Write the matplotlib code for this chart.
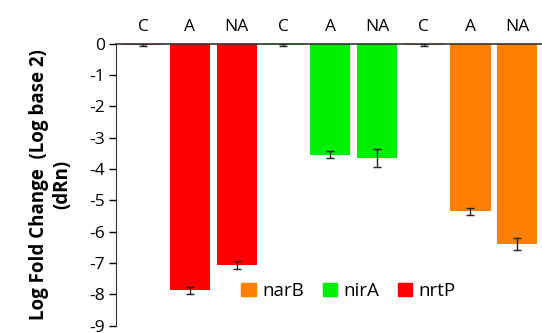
import matplotlib.pyplot as plt
from matplotlib.patches import Patch

plt.rcParams["font.family"] = ["Open Sans", "DejaVu Sans"]

# data, one group per gene (nrtP, nirA, narB), conditions C / A / NA
conditions = ["C", "A", "NA"]
genes = ["nrtP", "nirA", "narB"]
gene_colors = {"nrtP": "#ff0000", "nirA": "#00ee00", "narB": "#ff8000"}
nrtP_vals = [-0.03, -7.87, -7.07]
nrtP_err = [0.03, 0.12, 0.13]
nirA_vals = [-0.03, -3.54, -3.65]
nirA_err = [0.03, 0.12, 0.28]
narB_vals = [-0.03, -5.35, -6.40]
narB_err = [0.03, 0.12, 0.20]

values = nrtP_vals + nirA_vals + narB_vals
errors = nrtP_err + nirA_err + narB_err
colors = [gene_colors[g] for g in genes for _ in conditions]
labels = conditions * len(genes)
x = list(range(len(values)))

fig = plt.figure(figsize=(5.42, 3.33), dpi=100)
ax = fig.add_axes([0.214, 0.022, 0.786, 0.847])

ax.bar(x, values, width=0.86, color=colors, zorder=2)
ax.errorbar(x, values, yerr=errors, fmt="none", ecolor="#222222",
            elinewidth=1, capsize=3, capthick=1, zorder=3)

ax.set_ylim(-9, 0)
ax.set_xlim(-0.58, 8.53)
ax.set_yticks(range(-9, 1))
ax.set_yticklabels([str(v) for v in range(-9, 1)], fontsize=12.5)

ax.xaxis.tick_top()
ax.set_xticks(x)
ax.set_xticklabels(labels, fontsize=12.5)
ax.tick_params(axis="x", length=0, pad=6)
ax.tick_params(axis="y", length=5, width=1, direction="out", pad=3)

ax.spines["right"].set_visible(False)
ax.spines["bottom"].set_visible(False)
ax.spines["top"].set_color("#333333")
ax.spines["left"].set_color("#333333")
ax.spines["top"].set_linewidth(1.2)

ax.set_ylabel("Log Fold Change  (Log base 2)\n(dRn)", fontsize=13.5,
              fontweight="bold", linespacing=1.25, labelpad=12)

# legend order as in the figure: narB, nirA, nrtP
handles = [Patch(color=gene_colors[g], label=g) for g in ["narB", "nirA", "nrtP"]]
fig.legend(handles=handles, loc="center", bbox_to_anchor=(0.643, 0.126),
           ncol=3, frameon=False, fontsize=13.5, handlelength=0.75,
           handleheight=0.75, handletextpad=0.35, columnspacing=1.0)

plt.savefig("out.png", dpi=100)
